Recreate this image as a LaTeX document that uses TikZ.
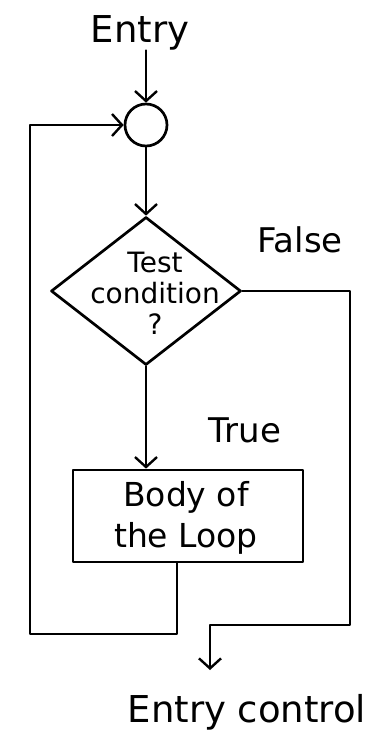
\documentclass[tikz,border=0pt]{standalone}
\usepackage{fontspec}
\setmainfont{DejaVu Sans}
\usetikzlibrary{shapes.geometric,arrows.meta}
\begin{document}
\begin{tikzpicture}[x=1pt,y=-1pt,
  line/.style={line width=2.7pt,line join=round,line cap=round},
  arr/.style={line,-{Straight Barb[length=10pt,width=22pt,line width=2.4pt]}},
  lbl/.style={inner sep=0pt,font=\fontsize{34}{38}\selectfont},
  inlbl/.style={inner sep=0pt,align=center},
  conn/.style={line,draw,circle,minimum size=42pt,inner sep=0pt},
  decision/.style={line,draw,diamond,minimum width=190pt,minimum height=148pt,inner sep=0pt},
  bodybox/.style={line,draw,rectangle,minimum width=230pt,minimum height=92pt,inner sep=0pt}]
\useasboundingbox (0,0) rectangle (378,747);
\node[lbl,font=\fontsize{37}{40}\selectfont] (entry) at (140,33) {Entry};
\node[conn] (c) at (146,125) {};
\node[decision] (d) at (146,291) {};
\node[inlbl,font=\fontsize{28}{31}\selectfont] (dt) at (155,293) {Test\\condition\\?};
\node[bodybox] (b) at (188,516) {};
\node[inlbl,font=\fontsize{33}{41}\selectfont] (bt) at (186,518) {Body of\\the Loop};
\node[lbl] (false) at (300,240) {False};
\node[lbl] (true) at (245,430) {True};
\node[lbl,font=\fontsize{37}{40}\selectfont] (exitlbl) at (247,712) {Entry control};
\coordinate (bx) at (177,0);
\coordinate (loopL) at (30,634);
\coordinate (fcorner) at (350,625);
\coordinate (out) at (210,670);
\draw[arr] (entry.south -| c.north) -- (c.north);
\draw[arr] (c.south) -- (d.north);
\draw[arr] (d.south) -- (d.south |- b.north);
\draw[arr] (b.south -| bx) |- (loopL) |- (c.west);
\draw[arr] (d.east) -| (fcorner) -| (out);
\end{tikzpicture}
\end{document}
